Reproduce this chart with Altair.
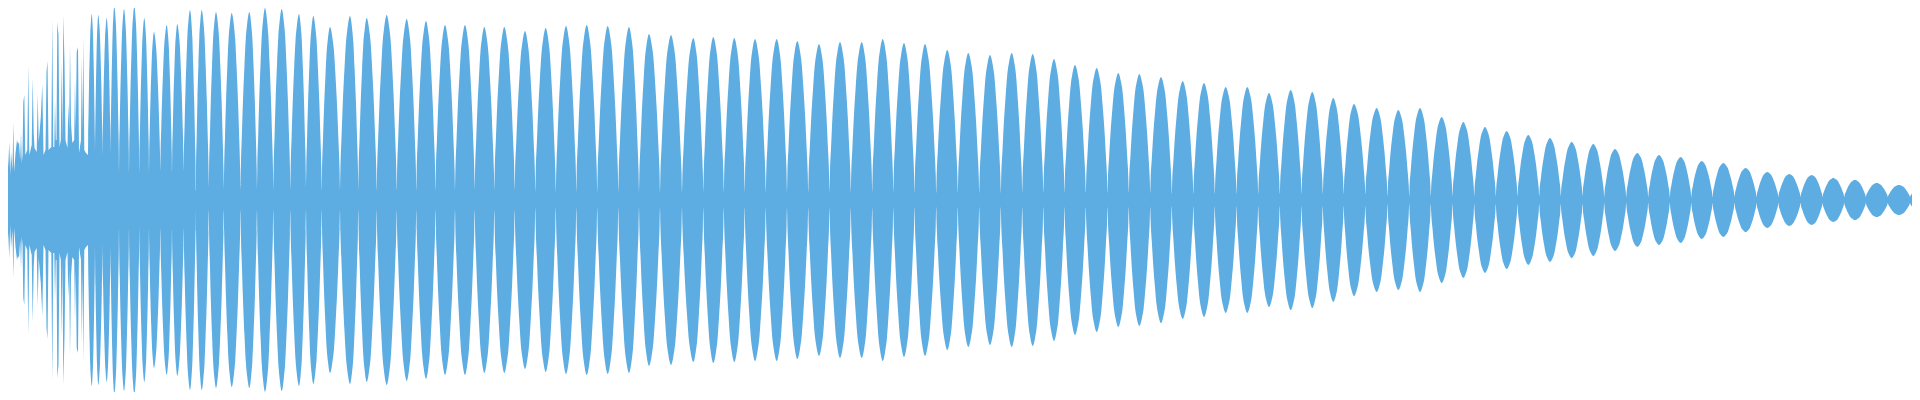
import altair as alt
import pandas as pd

# ---- values (x in px along the strip, amplitude in px from the centre line) ----
PEAK_X = [91.7, 98.3, 106.7, 114.3, 124, 134.3, 144.3, 154, 166.7, 177.3,
          190, 201.7, 216, 231.7, 249.3, 265, 281.7, 299, 313.3, 330,
          350, 366.7, 386.7, 406.7, 426, 445, 465, 484.3, 504.3, 525,
          545.7, 566, 586.7, 607.7, 629, 649, 671, 693.3, 713.3, 734.3,
          755, 776.7, 797.3, 819, 840, 861.7, 882.7, 904, 925, 947.3,
          968.3, 990, 1011.7, 1032.7, 1054, 1075, 1096.7, 1118.3, 1139.3, 1161,
          1182.7, 1204, 1225.7, 1247.3, 1269, 1290.7, 1312.3, 1333.3, 1354, 1376.7,
          1398.3, 1420, 1441.7, 1463.3, 1485, 1506.7, 1528.3, 1550, 1571.7, 1593.3,
          1615, 1637.3, 1659, 1680.7, 1701.7, 1723.3, 1745.7, 1767.3, 1789.3, 1811.7,
          1833.3, 1855, 1876.7, 1899, 1921]
PEAK_AMP = [186, 185, 182, 194, 191, 194, 182, 168, 175, 176,
            190, 190, 188, 187, 188, 192, 191, 186, 184, 173,
            184, 182, 185, 181, 179, 175, 175, 173, 173, 169,
            172, 174, 175, 174, 173, 166, 165, 162, 163, 162,
            161, 161, 159, 156, 158, 158, 161, 157, 156, 150,
            147, 145, 147, 146, 141, 135, 132, 127, 126, 123,
            119, 117, 113, 113, 107, 110, 108, 102, 96, 92,
            90, 92, 83, 78, 73, 69, 65, 62, 58, 56,
            51, 47, 45, 43, 39, 37, 32, 28, 26, 25,
            22, 20, 17, 15, 13]
TROUGH_X = [88, 95, 102.5, 110.5, 119, 129, 139.3, 149, 160.3, 172, 183.7,
            195.8, 208.8, 223.8, 240.5, 257, 273.3, 290.3, 306, 321.7, 340,
            358.3, 376.7, 396.7, 416.3, 435.5, 455, 474.7, 494.3, 514.7, 535.3,
            555.8, 576.3, 597.2, 618.3, 639, 660, 682, 703.3, 723.8, 744.7,
            765.8, 787, 808.2, 829.5, 850.8, 872.2, 893.3, 914.5, 936.2, 957.8,
            979.2, 1000.8, 1022.2, 1043.3, 1064.5, 1085.8, 1107.5, 1128.8, 1150.2, 1171.8,
            1193.3, 1214.8, 1236.5, 1258.2, 1279.8, 1301.5, 1322.8, 1343.7, 1365.3, 1387.5,
            1409.2, 1430.8, 1452.5, 1474.2, 1495.8, 1517.5, 1539.2, 1560.8, 1582.5, 1604.2,
            1626.2, 1648.2, 1669.8, 1691.2, 1712.5, 1734.5, 1756.5, 1778.3, 1800.5, 1822.5,
            1844.2, 1865.8, 1887.8, 1910, 1932]
TROUGH_AMP = [45, 45, 45, 45,
              28, 28, 28, 28, 28, 28, 28,
              10, 10, 10, 10, 10, 10, 10, 10, 10, 10, 10, 10, 10, 10, 10, 10, 10, 10, 10,
              8, 8, 8, 8, 8, 8, 8, 8, 8, 8, 8, 8, 8, 8, 8, 8, 8, 8,
              7, 7, 7, 7, 7, 7, 7, 7, 7, 7, 7, 7,
              6, 6, 6, 6, 6, 6, 6, 6, 6, 6,
              4, 4, 4, 4, 4, 4, 4, 4, 4, 4,
              3, 3, 3, 3, 3, 3, 3, 3, 3, 3, 3, 3, 3, 3, 3,
              3]
# lobe flank profile: fraction of the way trough->peak (x) and rise reached
PROFILE_U = [0, 0.04, 0.15, 0.28, 0.45, 0.6, 0.75, 0.88]
PROFILE_V = [0, 0.12, 0.3, 0.5, 0.7, 0.85, 0.93, 0.98]
# the noisy onset at the very left (x, amplitude)
LEFT = [(0, 82), (1, 82), (1.8, 30), (3, 42), (4, 22), (5.5, 20), (6.3, 30), (7, 96), (7.8, 30),
        (8.5, 40), (9.3, 58), (10.2, 25), (11, 48), (12.5, 30), (13.3, 78), (14.2, 28), (15.5, 47),
        (17, 60), (18, 56), (19, 58), (20.2, 40), (21, 68), (21.8, 37), (22.5, 45), (23.3, 98),
        (24.3, 105), (25.3, 45), (27.3, 50), (28.3, 135), (29.3, 45), (31.7, 55), (32.7, 122),
        (33.7, 67), (34.5, 52), (36.7, 48), (37.7, 106), (38.7, 58), (40.8, 83), (42.3, 116),
        (43.5, 45), (45.5, 50), (46.5, 128), (47.5, 139), (48.5, 50), (51.3, 53), (52.3, 181),
        (53.3, 53), (54.3, 53), (55, 100), (55.8, 60), (56.5, 60), (57.3, 178), (58.5, 165),
        (59.5, 53), (60.8, 60), (61.7, 138), (62.5, 60), (63.3, 185), (64.5, 137), (65.5, 60),
        (67.5, 52), (68.3, 97), (69.2, 70), (70, 155), (71, 77), (72.3, 57), (74.2, 60), (75, 120),
        (75.8, 70), (76.7, 148), (78, 153), (79, 47), (81, 60), (81.8, 143), (82.5, 70),
        (83.3, 161), (84.3, 50), (86, 47), (88, 45)]

COLOR = "#5DADE2"

assert len(PEAK_X) == len(PEAK_AMP)
assert len(TROUGH_X) == len(TROUGH_AMP) == len(PEAK_X) + 1

# build the lobe outline table
rows = []
for i, (px, pa) in enumerate(zip(PEAK_X, PEAK_AMP)):
    tx0, ta0 = TROUGH_X[i], TROUGH_AMP[i]
    tx1, ta1 = TROUGH_X[i + 1], TROUGH_AMP[i + 1]
    for u, v in zip(PROFILE_U, PROFILE_V):
        rows.append((tx0 + u * (px - tx0), ta0 + v * (pa - ta0)))
    rows.append((px, pa))
    for u, v in zip(reversed(PROFILE_U[1:]), reversed(PROFILE_V[1:])):
        rows.append((tx1 + u * (px - tx1), ta1 + v * (pa - ta1)))
rows.append((TROUGH_X[-1], TROUGH_AMP[-1]))
lobes = pd.DataFrame(rows, columns=["x", "amp"])
lobes["neg"] = -lobes["amp"]

left = pd.DataFrame(LEFT, columns=["x", "amp"])
left["neg"] = -left["amp"]

xs = alt.Scale(domain=[8, 1912], nice=False, zero=False)
ys = alt.Scale(domain=[-192, 192], nice=False, zero=False)


def layer(df, interp):
    return alt.Chart(df).mark_area(interpolate=interp, color=COLOR, opacity=1, clip=True).encode(
        x=alt.X("x:Q", scale=xs, axis=None),
        y=alt.Y("amp:Q", scale=ys, axis=None),
        y2="neg:Q",
    )


chart = alt.layer(layer(left, "linear"), layer(lobes, "monotone")).properties(
    width=1904, height=384, padding=0
).configure_view(stroke="transparent")

chart.save("out.html", embed_options={"renderer": "svg", "actions": False})
